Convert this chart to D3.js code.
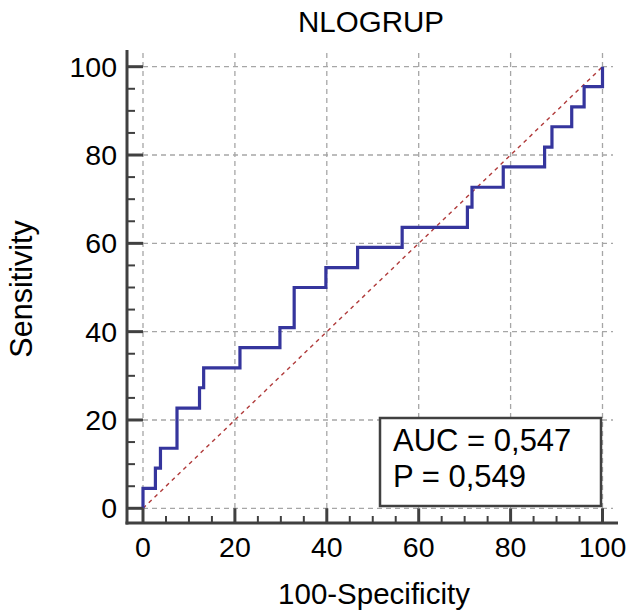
<!DOCTYPE html>
<html>
<head>
<meta charset="utf-8">
<script src="https://cdn.jsdelivr.net/npm/d3@7"></script>
<style>
  html, body { margin: 0; padding: 0; background: #fff; }
  svg { display: block; font-family: "Liberation Sans", Arial, sans-serif; }
</style>
</head>
<body>
<div id="chart"></div>
<script>
// ROC points (100-Specificity, Sensitivity), drawn as steps
const fpr = [0, 0, 2.7, 3.8, 7.4, 12.3, 13.2, 21.1, 29.8, 32.9, 39.8, 46.7, 56.4, 70.6, 71.6, 78.4, 87.4, 89.0, 93.3, 96.0, 100];
const tpr = [0, 4.5, 9.1, 13.6, 22.7, 27.3, 31.8, 36.4, 40.9, 50.0, 54.5, 59.1, 63.6, 68.2, 72.7, 77.3, 81.8, 86.4, 90.9, 95.5, 100];
const majorTicks = [0, 20, 40, 60, 80, 100];
const minorTicks = d3.range(0, 101, 5).filter(v => v % 20 !== 0);
const title = "NLOGRUP";
const xLabel = "100-Specificity";
const yLabel = "Sensitivity";
const statLines = ["AUC = 0,547", "P = 0,549"];

const width = 628, height = 610;
const svg = d3.select("#chart").append("svg")
    .attr("width", width)
    .attr("height", height);

// scales: data 0..100 maps inside the frame
const x = d3.scaleLinear().domain([0, 100]).range([143, 602.5]);
const y = d3.scaleLinear().domain([0, 100]).range([508.3, 66.7]);

const axisLeftX = 127, axisBottomY = 523;
const axisColor = "#404040";

// grid
const grid = svg.append("g")
    .attr("stroke", "#a6a6a6")
    .attr("stroke-width", 1.3)
    .attr("stroke-dasharray", "5,4");
grid.selectAll("line.h").data(majorTicks).join("line")
    .attr("x1", x(0)).attr("x2", 613)
    .attr("y1", d => y(d)).attr("y2", d => y(d));
grid.selectAll("line.v").data(majorTicks).join("line")
    .attr("x1", d => x(d)).attr("x2", d => x(d))
    .attr("y1", 53).attr("y2", y(0));

// diagonal reference line
svg.append("line")
    .attr("x1", x(0)).attr("y1", y(0))
    .attr("x2", x(100)).attr("y2", y(100))
    .attr("stroke", "#b03a3a")
    .attr("stroke-width", 1.4)
    .attr("stroke-dasharray", "4,4");

// ROC curve
const line = d3.line()
    .x((d, i) => x(fpr[i]))
    .y(d => y(d))
    .curve(d3.curveStepAfter);
svg.append("path")
    .attr("d", line(tpr))
    .attr("fill", "none")
    .attr("stroke", "#35359d")
    .attr("stroke-width", 3.2);

// axes
const axes = svg.append("g").attr("stroke", axisColor).attr("stroke-linecap", "butt");
axes.append("line").attr("x1", axisLeftX).attr("x2", axisLeftX).attr("y1", 50).attr("y2", axisBottomY + 1.5).attr("stroke-width", 3);
axes.append("line").attr("x1", axisLeftX - 1.5).attr("x2", 618).attr("y1", axisBottomY).attr("y2", axisBottomY).attr("stroke-width", 3);

axes.selectAll("line.ym").data(majorTicks).join("line")
    .attr("x1", axisLeftX).attr("x2", x(0))
    .attr("y1", d => y(d)).attr("y2", d => y(d)).attr("stroke-width", 3);
axes.selectAll("line.yn").data(minorTicks).join("line")
    .attr("x1", axisLeftX).attr("x2", axisLeftX + 8)
    .attr("y1", d => y(d)).attr("y2", d => y(d)).attr("stroke-width", 2);
axes.selectAll("line.xm").data(majorTicks).join("line")
    .attr("x1", d => x(d)).attr("x2", d => x(d))
    .attr("y1", axisBottomY).attr("y2", y(0)).attr("stroke-width", 3);
axes.selectAll("line.xn").data(minorTicks).join("line")
    .attr("x1", d => x(d)).attr("x2", d => x(d))
    .attr("y1", axisBottomY).attr("y2", axisBottomY - 7).attr("stroke-width", 2);

// tick labels
svg.append("g").selectAll("text").data(majorTicks).join("text")
    .attr("x", 117).attr("y", d => y(d) + 10)
    .attr("text-anchor", "end")
    .attr("font-size", 28.5)
    .text(d => d);
svg.append("g").selectAll("text").data(majorTicks).join("text")
    .attr("x", d => x(d)).attr("y", 557)
    .attr("text-anchor", "middle")
    .attr("font-size", 28.5)
    .text(d => d);

// titles
svg.append("text").attr("x", 371).attr("y", 32)
    .attr("text-anchor", "middle").attr("font-size", 29.5).text(title);
svg.append("text").attr("x", 374).attr("y", 604)
    .attr("text-anchor", "middle").attr("font-size", 29.5).text(xLabel);
svg.append("text")
    .attr("transform", "translate(32,289) rotate(-90)")
    .attr("text-anchor", "middle").attr("font-size", 30.5).text(yLabel);

// stats box
const box = svg.append("g");
box.append("rect")
    .attr("x", 380).attr("y", 418).attr("width", 221).attr("height", 88)
    .attr("fill", "#fff").attr("stroke", axisColor).attr("stroke-width", 2.5);
box.selectAll("text").data(statLines).join("text")
    .attr("x", 393).attr("y", (d, i) => 451 + i * 36)
    .attr("font-size", 31)
    .text(d => d);
</script>
</body>
</html>
